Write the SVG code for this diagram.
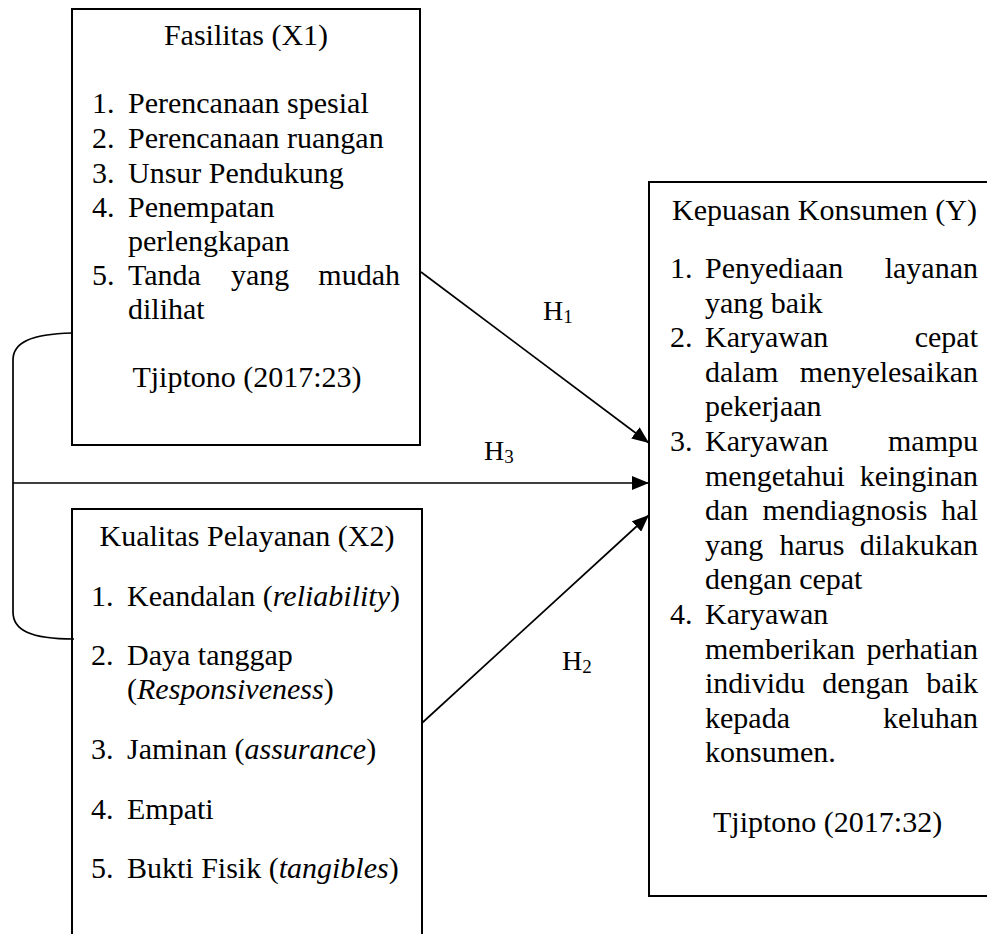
<svg xmlns="http://www.w3.org/2000/svg" width="987" height="934" viewBox="0 0 987 934">
<style>
  text { font-family: "Liberation Serif", "Times New Roman", serif; font-size: 30px; fill: #000; }
  .box { fill: #fff; stroke: #000; stroke-width: 2; }
  .con { fill: none; stroke: #000; stroke-width: 1.7; }
  .it { font-style: italic; }
  .lbl { font-size: 28px; }
  .sub { font-size: 19px; }
  .end { text-anchor: end; }
  .mid { text-anchor: middle; }
</style>
<defs>
  <marker id="arrow" markerUnits="userSpaceOnUse" markerWidth="18" markerHeight="14" refX="17" refY="7" orient="auto">
    <path d="M0,0 L17,7 L0,14 Z" fill="#000"/>
  </marker>
</defs>
<rect width="987" height="934" fill="#fff"/>

<g id="node-x1">
  <rect class="box" x="72" y="9" width="348" height="436"/>
  <text class="mid" x="246" y="45">Fasilitas (X1)</text>
  <text x="92" y="113">1.</text><text x="128" y="113">Perencanaan spesial</text>
  <text x="92" y="148">2.</text><text x="128" y="148">Perencanaan ruangan</text>
  <text x="92" y="182.5">3.</text><text x="128" y="182.5">Unsur Pendukung</text>
  <text x="92" y="217">4.</text><text x="128" y="217">Penempatan</text>
  <text x="128" y="251">perlengkapan</text>
  <text x="92" y="285">5.</text><text x="128" y="285">Tanda</text><text x="231" y="285">yang</text><text class="end" x="400" y="285">mudah</text>
  <text x="128" y="319">dilihat</text>
  <text class="mid" x="247" y="387">Tjiptono (2017:23)</text>
</g>

<g id="node-x2">
  <rect class="box" x="72" y="509" width="350" height="500"/>
  <text class="mid" x="247" y="546">Kualitas Pelayanan (X2)</text>
  <text x="91" y="606">1.</text><text x="127" y="606">Keandalan (<tspan class="it">reliability</tspan>)</text>
  <text x="91" y="665">2.</text><text x="127" y="665">Daya tanggap</text>
  <text x="127" y="699">(<tspan class="it">Responsiveness</tspan>)</text>
  <text x="91" y="759">3.</text><text x="127" y="759">Jaminan (<tspan class="it">assurance</tspan>)</text>
  <text x="91" y="819">4.</text><text x="127" y="819">Empati</text>
  <text x="91" y="878">5.</text><text x="127" y="878">Bukti Fisik (<tspan class="it">tangibles</tspan>)</text>
</g>

<g id="node-y">
  <rect class="box" x="649" y="182" width="360" height="714"/>
  <text x="672" y="220">Kepuasan Konsumen (Y)</text>
  <text x="670" y="278">1.</text><text x="705" y="278">Penyediaan</text><text class="end" x="978" y="278">layanan</text>
  <text x="705" y="312.6">yang baik</text>
  <text x="670" y="347.2">2.</text><text x="705" y="347.2">Karyawan</text><text class="end" x="978" y="347.2">cepat</text>
  <text x="705" y="381.8">dalam</text><text class="end" x="978" y="381.8">menyelesaikan</text>
  <text x="705" y="416.4">pekerjaan</text>
  <text x="670" y="451">3.</text><text x="705" y="451">Karyawan</text><text class="end" x="978" y="451">mampu</text>
  <text x="705" y="485.6">mengetahui</text><text class="end" x="978" y="485.6">keinginan</text>
  <text x="705" y="520.2">dan</text><text class="mid" x="845" y="520.2">mendiagnosis</text><text class="end" x="978" y="520.2">hal</text>
  <text x="705" y="554.8">yang</text><text class="mid" x="812" y="554.8">harus</text><text class="end" x="978" y="554.8">dilakukan</text>
  <text x="705" y="589.4">dengan cepat</text>
  <text x="670" y="624">4.</text><text x="705" y="624">Karyawan</text>
  <text x="705" y="658.6">memberikan</text><text class="end" x="978" y="658.6">perhatian</text>
  <text x="705" y="693.2">individu</text><text class="mid" x="865.5" y="693.2">dengan</text><text class="end" x="978" y="693.2">baik</text>
  <text x="705" y="727.8">kepada</text><text class="end" x="978" y="727.8">keluhan</text>
  <text x="705" y="762.4">konsumen.</text>
  <text x="713" y="832">Tjiptono (2017:32)</text>
</g>

<g id="connectors">
  <path class="con" d="M72,333 C30,334 13,343 13,360 L13,612 C13,630 30,639 74,639"/>
  <path class="con" d="M13,483 L649,483" marker-end="url(#arrow)"/>
  <path class="con" d="M421,272 L649,443" marker-end="url(#arrow)"/>
  <path class="con" d="M422,723 L649,515" marker-end="url(#arrow)"/>
  <text class="lbl" x="543" y="320">H<tspan class="sub" dy="3">1</tspan></text>
  <text class="lbl" x="484" y="460">H<tspan class="sub" dy="3">3</tspan></text>
  <text class="lbl" x="562" y="670">H<tspan class="sub" dy="3">2</tspan></text>
</g>
</svg>
